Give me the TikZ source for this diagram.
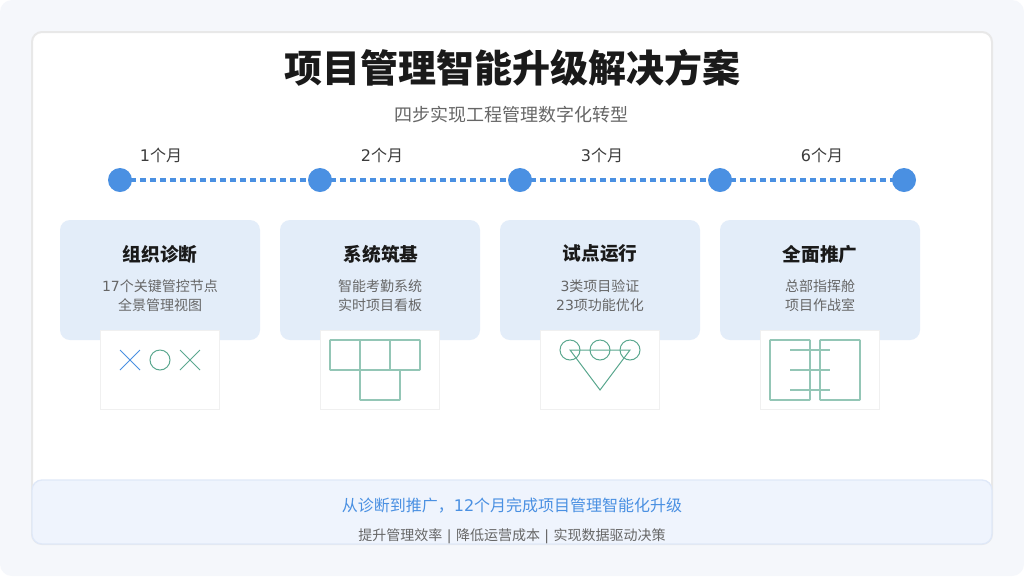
\documentclass[tikz,border=0pt]{standalone}
\usepackage{fontspec}
\setmainfont{Noto Sans CJK SC}
\newfontfamily\digitfont{DejaVu Sans}
\newcommand{\dg}[1]{{\digitfont #1}}
\definecolor{dotblue}{HTML}{4A90E2}
\definecolor{cardblue}{HTML}{E3EDF9}
\definecolor{pagegray}{HTML}{F5F7FB}
\definecolor{bandblue}{HTML}{EFF4FD}
\definecolor{bandline}{HTML}{DFE8F8}
\definecolor{iconline}{HTML}{5BA88F}
\definecolor{inkdark}{HTML}{1A1A1A}
\definecolor{inkgray}{HTML}{666666}
\tikzset{
    dotnode/.style={circle, fill=dotblue, minimum size=18pt, inner sep=0pt},
    dotlink/.style={dotblue, line width=3pt, dash pattern=on 4.5pt off 3pt},
    monthlabel/.style={text=inkdark!85, font=\fontsize{12}{14}\selectfont},
    cardbox/.style={fill=cardblue, rounded corners=7.5pt, minimum width=150pt, minimum height=90pt, inner sep=0pt},
    iconbox/.style={fill=white, draw=black!6, line width=0.4pt, minimum width=89.4pt, minimum height=59.4pt, inner sep=0pt, outer sep=0pt},
    cardtitle/.style={text=inkdark, font=\fontsize{14}{17}\selectfont\bfseries},
    carddesc/.style={text=inkgray, align=center, font=\fontsize{10.5}{14.25}\selectfont},
    thinicon/.style={iconline, line width=0.75pt},
    wideicon/.style={iconline!65, line width=1.4pt, rounded corners=0.5pt}
}
\begin{document}
\begin{tikzpicture}[x=0.75pt, y=-0.75pt]
    \useasboundingbox (0,0) rectangle (1024,576);
    \fill[white] (0,0) rectangle (1024,576);
    \fill[pagegray, rounded corners=9pt] (0,0) rectangle (1024,576);
    \filldraw[fill=white, draw=black!9, line width=1.5pt, rounded corners=7.5pt] (32,32) rectangle (992,544);

    \node[text=inkdark, font=\fontsize{28.5}{34}\selectfont\bfseries] (maintitle) at (512,68) {项目管理智能升级解决方案};
    \node[text=inkgray, font=\fontsize{13.5}{16}\selectfont] (subtitle) at (511,115) {四步实现工程管理数字化转型};

    % timeline
    \node[dotnode] (dot1) at (120,180) {};
    \node[dotnode] (dot2) at (320,180) {};
    \node[dotnode] (dot3) at (520,180) {};
    \node[dotnode] (dot4) at (720,180) {};
    \node[dotnode] (dot5) at (904,180) {};
    \draw[dotlink] (dot1.center) -- (dot2.center);
    \draw[dotlink] (dot2.center) -- (dot3.center);
    \draw[dotlink] (dot3.center) -- (dot4.center);
    \draw[dotlink] (dot4.center) -- (dot5.center);
    \node[monthlabel] (month1) at (161,155) {\dg{1}个月};
    \node[monthlabel] (month2) at (382,155) {\dg{2}个月};
    \node[monthlabel] (month3) at (602,155) {\dg{3}个月};
    \node[monthlabel] (month4) at (822,155) {\dg{6}个月};

    % cards
    \node[cardbox] (card1) at (160,280) {};
    \node[cardbox] (card2) at (380,280) {};
    \node[cardbox] (card3) at (600,280) {};
    \node[cardbox] (card4) at (820,280) {};
    \node[cardtitle] (title1) at (160,254) {组织诊断};
    \node[cardtitle] (title2) at (381,254) {系统筑基};
    \node[cardtitle] (title3) at (600,254) {试点运行};
    \node[cardtitle] (title4) at (820,254) {全面推广};
    \node[carddesc] (desc1) at (160,295.5) {\dg{17}个关键管控节点\\全景管理视图};
    \node[carddesc] (desc2) at (380,295.5) {智能考勤系统\\实时项目看板};
    \node[carddesc] (desc3) at (600,295.5) {\dg{3}类项目验证\\\dg{23}项功能优化};
    \node[carddesc] (desc4) at (820,295.5) {总部指挥舱\\项目作战室};

    % icons
    \node[iconbox] (icon1) at (160,370) {};
    \node[iconbox] (icon2) at (380,370) {};
    \node[iconbox] (icon3) at (600,370) {};
    \node[iconbox] (icon4) at (820,370) {};

    \draw[dotblue, line width=0.75pt] (120,350) -- (140,370) (140,350) -- (120,370);
    \draw[thinicon] (160,360) circle (10);
    \draw[thinicon] (180,350) -- (200,370) (200,350) -- (180,370);

    \draw[wideicon] (330,340) rectangle (360,370);
    \draw[wideicon] (360,340) rectangle (390,370);
    \draw[wideicon] (390,340) rectangle (420,370);
    \draw[wideicon] (360,370) rectangle (400,400);

    \draw[thinicon] (570,350) circle (10);
    \draw[thinicon] (600,350) circle (10);
    \draw[thinicon] (630,350) circle (10);
    \draw[thinicon] (570,350) -- (630,350) -- (600,390) -- cycle;

    \draw[wideicon] (770,340) rectangle (810,400);
    \draw[wideicon] (820,340) rectangle (860,400);
    \draw[wideicon] (790,350) -- (830,350);
    \draw[wideicon] (790,370) -- (830,370);
    \draw[wideicon] (790,390) -- (830,390);

    % bottom band
    \node[fill=bandblue, draw=bandline, line width=1pt, rounded corners=7.5pt, minimum width=720pt, minimum height=48pt, inner sep=0pt] (band) at (512,512) {};
    \node[text=dotblue, font=\fontsize{12}{14}\selectfont] (bandmain) at (512,506) {从诊断到推广，\dg{12}个月完成项目管理智能化升级};
    \node[text=inkgray, font=\fontsize{10.5}{13}\selectfont] (bandsub) at (512,536) {提升管理效率\dg{ | }降低运营成本\dg{ | }实现数据驱动决策};
\end{tikzpicture}
\end{document}
